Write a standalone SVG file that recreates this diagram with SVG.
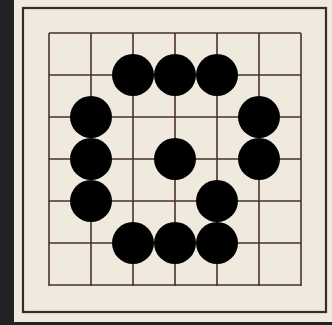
<svg xmlns="http://www.w3.org/2000/svg" width="332" height="325" viewBox="0 0 332 325">
<defs>
<style>
.grid line{stroke:#4a302a;stroke-width:1.6}
.stone{fill:#000;filter:url(#soft)}
</style>
<filter id="soft" x="-20%" y="-20%" width="140%" height="140%"><feGaussianBlur stdDeviation="0.7"/></filter>
</defs>
<rect x="0" y="0" width="332" height="325" fill="#222222"/>
<rect x="14" y="0" width="318" height="322" fill="#efe9de"/>
<rect id="border" x="23" y="8" width="303" height="304" fill="none" stroke="#3a2a24" stroke-width="2.2"/>
<g id="grid" class="grid">
<line x1="49" y1="33" x2="49" y2="286"/>
<line x1="91" y1="33" x2="91" y2="286"/>
<line x1="133" y1="33" x2="133" y2="286"/>
<line x1="175" y1="33" x2="175" y2="286"/>
<line x1="217" y1="33" x2="217" y2="286"/>
<line x1="259" y1="33" x2="259" y2="286"/>
<line x1="301" y1="33" x2="301" y2="286"/>
<line x1="49" y1="33" x2="301" y2="33"/>
<line x1="49" y1="75" x2="301" y2="75"/>
<line x1="49" y1="117" x2="301" y2="117"/>
<line x1="49" y1="159" x2="301" y2="159"/>
<line x1="49" y1="201" x2="301" y2="201"/>
<line x1="49" y1="243" x2="301" y2="243"/>
<line x1="49" y1="285" x2="301" y2="285"/>
</g>
<g id="stones">
<circle class="stone" cx="133" cy="75" r="21"/>
<circle class="stone" cx="175" cy="75" r="21"/>
<circle class="stone" cx="217" cy="75" r="21"/>
<circle class="stone" cx="91" cy="117" r="21"/>
<circle class="stone" cx="259" cy="117" r="21"/>
<circle class="stone" cx="91" cy="159" r="21"/>
<circle class="stone" cx="175" cy="159" r="21"/>
<circle class="stone" cx="259" cy="159" r="21"/>
<circle class="stone" cx="91" cy="201" r="21"/>
<circle class="stone" cx="217" cy="201" r="21"/>
<circle class="stone" cx="133" cy="243" r="21"/>
<circle class="stone" cx="175" cy="243" r="21"/>
<circle class="stone" cx="217" cy="243" r="21"/>
</g>
</svg>
